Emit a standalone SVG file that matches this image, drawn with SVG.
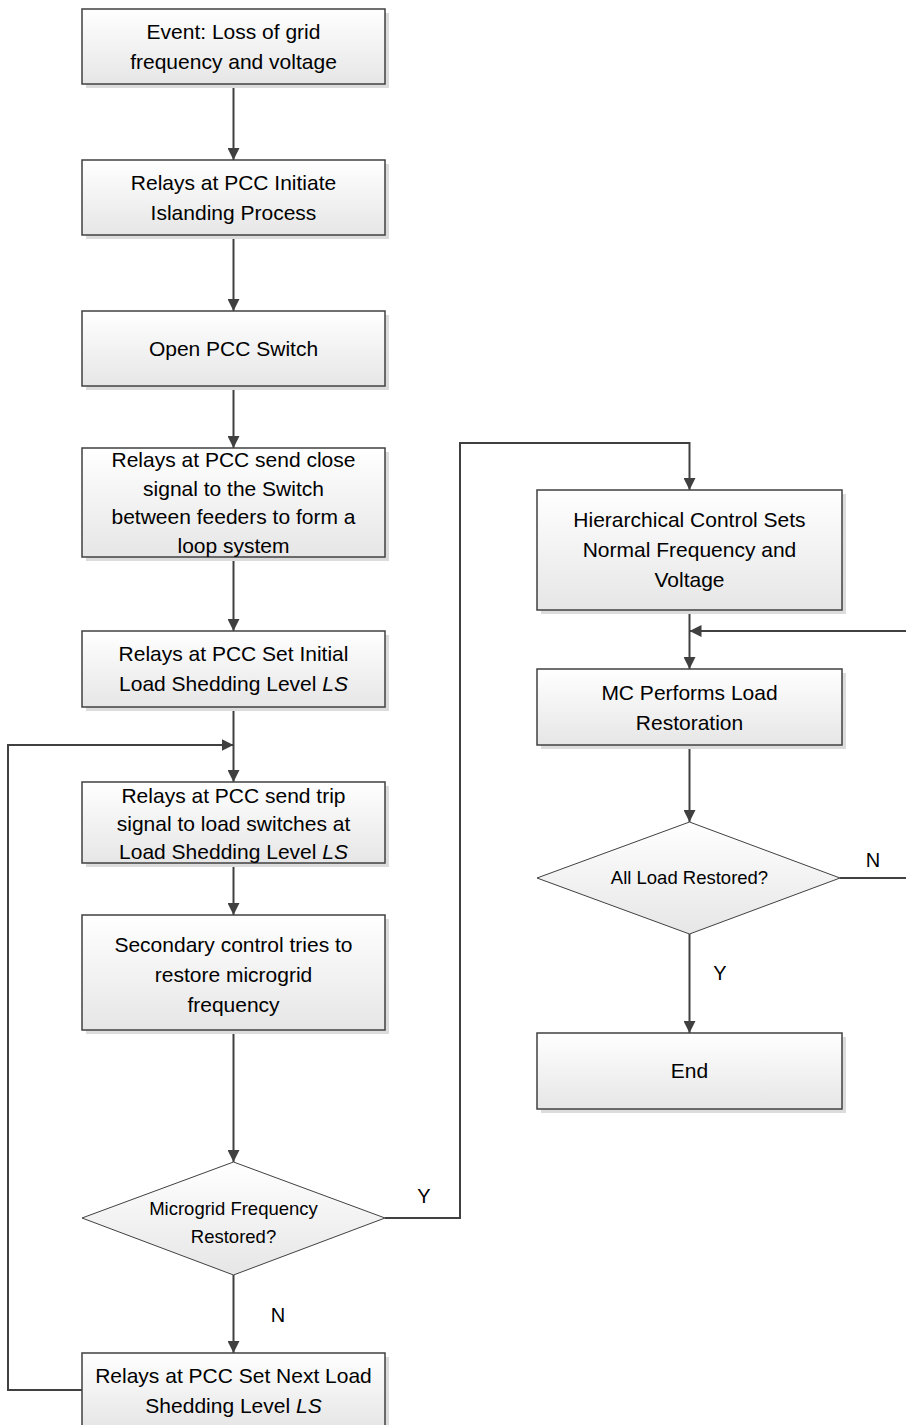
<svg xmlns="http://www.w3.org/2000/svg" width="906" height="1425" viewBox="0 0 906 1425">
  <defs>
    <linearGradient id="fillGrad" x1="0" y1="0" x2="0" y2="1">
      <stop offset="0" stop-color="#ffffff"/>
      <stop offset="1" stop-color="#e6e6e6"/>
    </linearGradient>
    <marker id="arrow" viewBox="0 0 12 12" refX="12" refY="6" markerWidth="12" markerHeight="12" markerUnits="userSpaceOnUse" orient="auto">
      <path d="M0,0 L12,6 L0,12 Z" fill="#404040"/>
    </marker>
  </defs>
  <style>
    .box { fill: url(#fillGrad); stroke: #404040; stroke-width: 1.5; }
    .shadow { fill: #dcdcdc; }
    .dia { fill: url(#fillGrad); stroke: #404040; stroke-width: 1; }
    .t { font-family: "Liberation Sans", Arial, sans-serif; font-size: 21px; fill: #000; text-anchor: middle; }
    .td { font-family: "Liberation Sans", Arial, sans-serif; font-size: 18.5px; fill: #000; text-anchor: middle; }
    .lbl { font-family: "Liberation Sans", Arial, sans-serif; font-size: 20px; fill: #000; text-anchor: middle; }
    .c { fill: none; stroke: #404040; stroke-width: 2; }
  </style>
  <rect width="906" height="1425" fill="#ffffff"/>

  <!-- connectors -->
  <g id="connectors">
    <path class="c" d="M233.5,84 V160" marker-end="url(#arrow)"/>
    <path class="c" d="M233.5,235 V311" marker-end="url(#arrow)"/>
    <path class="c" d="M233.5,386 V448" marker-end="url(#arrow)"/>
    <path class="c" d="M233.5,557 V631" marker-end="url(#arrow)"/>
    <path class="c" d="M233.5,707 V782" marker-end="url(#arrow)"/>
    <path class="c" d="M233.5,863 V915" marker-end="url(#arrow)"/>
    <path class="c" d="M233.5,1030 V1162" marker-end="url(#arrow)"/>
    <path class="c" d="M233.5,1275 V1353" marker-end="url(#arrow)"/>
    <path class="c" d="M82,1390 H8 V745 H233.5" marker-end="url(#arrow)"/>
    <path class="c" d="M385,1218 H460 V443 H689.5 V490" marker-end="url(#arrow)"/>
    <path class="c" d="M689.5,610 V669" marker-end="url(#arrow)"/>
    <path class="c" d="M907,878 V631 H689.5" marker-end="url(#arrow)"/>
    <path class="c" d="M689.5,745 V822" marker-end="url(#arrow)"/>
    <path class="c" d="M840,878 H907"/>
    <path class="c" d="M689.5,934 V1033" marker-end="url(#arrow)"/>
    <text class="lbl" x="424" y="1203">Y</text>
    <text class="lbl" x="278" y="1322">N</text>
    <text class="lbl" x="873" y="867">N</text>
    <text class="lbl" x="720" y="980">Y</text>
  </g>

  <g id="event">
    <rect class="shadow" x="86" y="13" width="303" height="75"/>
    <rect class="box" x="82" y="9" width="303" height="75"/>
    <text class="t" x="233.5" y="39">Event: Loss of grid</text>
    <text class="t" x="233.5" y="69">frequency and voltage</text>
  </g>

  <g id="initiate">
    <rect class="shadow" x="86" y="164" width="303" height="75"/>
    <rect class="box" x="82" y="160" width="303" height="75"/>
    <text class="t" x="233.5" y="190">Relays at PCC Initiate</text>
    <text class="t" x="233.5" y="220">Islanding Process</text>
  </g>

  <g id="open-pcc">
    <rect class="shadow" x="86" y="315" width="303" height="75"/>
    <rect class="box" x="82" y="311" width="303" height="75"/>
    <text class="t" x="233.5" y="356">Open PCC Switch</text>
  </g>

  <g id="close-signal">
    <rect class="shadow" x="86" y="452" width="303" height="109"/>
    <rect class="box" x="82" y="448" width="303" height="109"/>
    <text class="t" x="233.5" y="467">Relays at PCC send close</text>
    <text class="t" x="233.5" y="496">signal to the Switch</text>
    <text class="t" x="233.5" y="524">between feeders to form a</text>
    <text class="t" x="233.5" y="553">loop system</text>
  </g>

  <g id="initial-ls">
    <rect class="shadow" x="86" y="635" width="303" height="76"/>
    <rect class="box" x="82" y="631" width="303" height="76"/>
    <text class="t" x="233.5" y="661">Relays at PCC Set Initial</text>
    <text class="t" x="233.5" y="691">Load Shedding Level <tspan font-style="italic">LS</tspan></text>
  </g>

  <g id="trip-signal">
    <rect class="shadow" x="86" y="786" width="303" height="81"/>
    <rect class="box" x="82" y="782" width="303" height="81"/>
    <text class="t" x="233.5" y="803">Relays at PCC send trip</text>
    <text class="t" x="233.5" y="831">signal to load switches at</text>
    <text class="t" x="233.5" y="859">Load Shedding Level <tspan font-style="italic">LS</tspan></text>
  </g>

  <g id="secondary">
    <rect class="shadow" x="86" y="919" width="303" height="115"/>
    <rect class="box" x="82" y="915" width="303" height="115"/>
    <text class="t" x="233.5" y="952">Secondary control tries to</text>
    <text class="t" x="233.5" y="982">restore microgrid</text>
    <text class="t" x="233.5" y="1012">frequency</text>
  </g>

  <g id="freq-restored">
    <polygon class="dia" points="233.5,1162 385,1218 233.5,1275 82,1218"/>
    <text class="td" x="233.5" y="1215">Microgrid Frequency</text>
    <text class="td" x="233.5" y="1243">Restored?</text>
  </g>

  <g id="next-ls">
    <rect class="shadow" x="86" y="1357" width="303" height="75"/>
    <rect class="box" x="82" y="1353" width="303" height="75"/>
    <text class="t" x="233.5" y="1383">Relays at PCC Set Next Load</text>
    <text class="t" x="233.5" y="1413">Shedding Level <tspan font-style="italic">LS</tspan></text>
  </g>

  <g id="hierarchical">
    <rect class="shadow" x="541" y="494" width="305" height="120"/>
    <rect class="box" x="537" y="490" width="305" height="120"/>
    <text class="t" x="689.5" y="527">Hierarchical Control Sets</text>
    <text class="t" x="689.5" y="557">Normal Frequency and</text>
    <text class="t" x="689.5" y="587">Voltage</text>
  </g>

  <g id="load-restoration">
    <rect class="shadow" x="541" y="673" width="305" height="76"/>
    <rect class="box" x="537" y="669" width="305" height="76"/>
    <text class="t" x="689.5" y="700">MC Performs Load</text>
    <text class="t" x="689.5" y="730">Restoration</text>
  </g>

  <g id="all-restored">
    <polygon class="dia" points="689.5,822 840,878 689.5,934 537,878"/>
    <text class="td" x="689.5" y="884">All Load Restored?</text>
  </g>

  <g id="end">
    <rect class="shadow" x="541" y="1037" width="305" height="76"/>
    <rect class="box" x="537" y="1033" width="305" height="76"/>
    <text class="t" x="689.5" y="1078">End</text>
  </g>
</svg>
